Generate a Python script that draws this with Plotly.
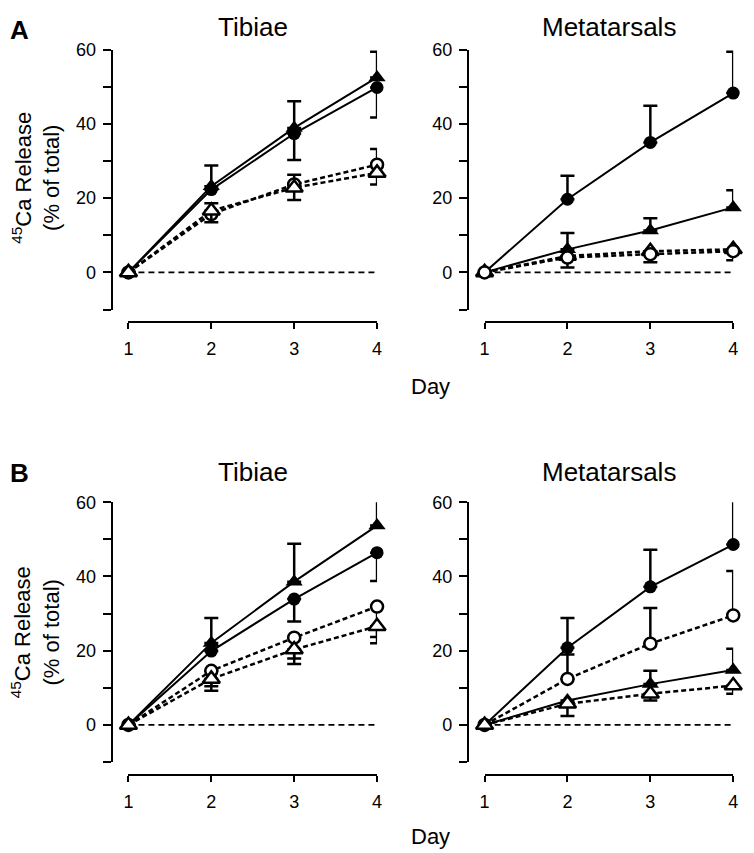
import plotly.graph_objects as go

# page body adds an 8px margin; lay out in screen pixels then shift
OFF = 8
W, H = 746, 845

days = [1, 2, 3, 4]
zero_x = [1, 4]
zero_y = [0, 0]

y_tickvals = [0, 20, 40, 60]
y_ticktext = ["0", "20", "40", "60"]
y_minor_tickvals = [-10, 10, 30, 50]
x_tickvals = [1, 2, 3, 4]
x_ticktext = ["1", "2", "3", "4"]

panel_titles = ["Tibiae", "Metatarsals", "Tibiae", "Metatarsals"]
panel_letters = ["A", "B"]

# ---- Panel A, Tibiae ----
a_tib_fc = [0, 22.3, 37.4, 49.8]
a_tib_fc_up = [0, 0, 0, 0]
a_tib_fc_dn = [0, 0, 7.1, 8.1]
a_tib_ft = [0, 23.2, 38.9, 52.5]
a_tib_ft_up = [0, 5.6, 7.2, 6.9]
a_tib_ft_dn = [0, 0, 0, 0]
a_tib_oc = [0, 15.7, 23.7, 29.0]
a_tib_oc_up = [0, 2.9, 2.6, 4.2]
a_tib_oc_dn = [0, 0, 0, 0]
a_tib_ot = [0, 16.6, 22.8, 26.8]
a_tib_ot_up = [0, 0, 0, 0]
a_tib_ot_dn = [0, 3.1, 3.3, 3.1]

# ---- Panel A, Metatarsals ----
a_met_fc = [0, 19.7, 35.0, 48.3]
a_met_fc_up = [0, 6.3, 9.9, 11.1]
a_met_fc_dn = [0, 0, 0, 0]
a_met_ft = [0, 6.2, 11.3, 17.5]
a_met_ft_up = [0, 4.4, 3.3, 4.6]
a_met_ft_dn = [0, 0, 0, 0]
a_met_oc = [0, 4.0, 4.9, 5.7]
a_met_oc_up = [0, 0, 0, 0]
a_met_oc_dn = [0, 2.7, 2.2, 2.4]
a_met_ot = [0, 4.4, 5.7, 6.2]
a_met_ot_up = [0, 0, 0, 0]
a_met_ot_dn = [0, 0, 0, 0]

# ---- Panel B, Tibiae ----
b_tib_fc = [0, 19.9, 33.9, 46.4]
b_tib_fc_up = [0, 0, 0, 0]
b_tib_fc_dn = [0, 0, 6.0, 7.6]
b_tib_ft = [0, 22.1, 38.6, 53.7]
b_tib_ft_up = [0, 6.7, 10.2, 8.4]
b_tib_ft_dn = [0, 0, 0, 0]
b_tib_oc = [0, 14.6, 23.5, 31.9]
b_tib_oc_up = [0, 0, 0, 0]
b_tib_oc_dn = [0, 4.2, 5.6, 8.2]
b_tib_ot = [0, 12.4, 20.3, 26.6]
b_tib_ot_up = [0, 0, 0, 0]
b_tib_ot_dn = [0, 3.2, 3.9, 4.6]

# ---- Panel B, Metatarsals ----
b_met_fc = [0, 20.8, 37.2, 48.6]
b_met_fc_up = [0, 8.0, 10.0, 13.7]
b_met_fc_dn = [0, 0, 0, 0]
b_met_ft = [0, 6.6, 11.0, 14.8]
b_met_ft_up = [0, 0, 3.6, 5.7]
b_met_ft_dn = [0, 0, 0, 0]
b_met_oc = [0, 12.4, 21.9, 29.5]
b_met_oc_up = [0, 6.6, 9.6, 12.0]
b_met_oc_dn = [0, 0, 0, 0]
b_met_ot = [0, 5.7, 8.4, 10.6]
b_met_ot_up = [0, 0, 0, 0]
b_met_ot_dn = [0, 3.3, 1.8, 2.2]

panels = [
    dict(fc=(a_tib_fc, a_tib_fc_up, a_tib_fc_dn), ft=(a_tib_ft, a_tib_ft_up, a_tib_ft_dn),
         oc=(a_tib_oc, a_tib_oc_up, a_tib_oc_dn), ot=(a_tib_ot, a_tib_ot_up, a_tib_ot_dn)),
    dict(fc=(a_met_fc, a_met_fc_up, a_met_fc_dn), ft=(a_met_ft, a_met_ft_up, a_met_ft_dn),
         oc=(a_met_oc, a_met_oc_up, a_met_oc_dn), ot=(a_met_ot, a_met_ot_up, a_met_ot_dn)),
    dict(fc=(b_tib_fc, b_tib_fc_up, b_tib_fc_dn), ft=(b_tib_ft, b_tib_ft_up, b_tib_ft_dn),
         oc=(b_tib_oc, b_tib_oc_up, b_tib_oc_dn), ot=(b_tib_ot, b_tib_ot_up, b_tib_ot_dn)),
    dict(fc=(b_met_fc, b_met_fc_up, b_met_fc_dn), ft=(b_met_ft, b_met_ft_up, b_met_ft_dn),
         oc=(b_met_oc, b_met_oc_up, b_met_oc_dn), ot=(b_met_ot, b_met_ot_up, b_met_ot_dn)),
]
draw_orders = [
    ["fc", "ft", "oc", "ot"],
    ["fc", "ft", "ot", "oc"],
    ["fc", "ft", "oc", "ot"],
    ["fc", "ft", "oc", "ot"],
]

FONT = "Liberation Sans, Arial, sans-serif"


def px(x):
    return (x - OFF) / W


def py(y):
    return 1 - (y - OFF) / H


# screen-pixel layout: (x day1, x day4, y-axis x, y top(60), y bottom(-10), x-axis line y)
geom = [
    (125, 377, 108, 40, 303, 316),
    (486, 738, 469, 40, 303, 316),
    (125, 377, 108, 498, 761, 774),
    (486, 738, 469, 498, 761, 774),
]

styles = {
    "fc": dict(symbol="circle", size=13, fill="black", dash="solid", lw=2),
    "ft": dict(symbol="triangle-up", size=15, fill="black", dash="solid", lw=2),
    "oc": dict(symbol="circle", size=12, fill="white", dash="5px,3px", lw=2.5),
    "ot": dict(symbol="triangle-up", size=15, fill="white", dash="5px,3px", lw=2.5),
}

fig = go.Figure()
layout = dict(
    width=W, height=H, margin=dict(l=0, r=0, t=0, b=0),
    paper_bgcolor="white", plot_bgcolor="rgba(0,0,0,0)", showlegend=False,
    font=dict(family=FONT, color="black"),
)

annotations = []
for i, (p, g) in enumerate(zip(panels, geom)):
    n = "" if i == 0 else str(i + 1)
    xa, ya = "x" + n, "y" + n
    x1, x4, yax, ytop, ybot, xline = g
    layout["xaxis" + n] = dict(
        domain=[px(x1), px(x4)], range=[1, 4], anchor="free", position=py(xline),
        showline=True, linecolor="black", linewidth=2, ticks="outside", ticklen=6,
        tickwidth=2, tickcolor="black", tickvals=x_tickvals, ticktext=x_ticktext,
        tickfont=dict(size=18, family=FONT), ticklabelstandoff=4,
        showgrid=False, zeroline=False, fixedrange=True,
    )
    layout["yaxis" + n] = dict(
        domain=[py(ybot), py(ytop)], range=[-10, 60], anchor="free",
        position=px(yax), showline=True, linecolor="black", linewidth=2,
        ticks="outside", ticklen=8, tickwidth=2, tickcolor="black",
        tickvals=y_tickvals, ticktext=y_ticktext, tickfont=dict(size=18, family=FONT),
        minor=dict(tickvals=y_minor_tickvals, ticks="outside", ticklen=8, tickwidth=2,
                   tickcolor="black", showgrid=False),
        ticklabelstandoff=3, showgrid=False, zeroline=False, fixedrange=True,
    )
    fig.add_trace(go.Scatter(x=zero_x, y=zero_y, mode="lines", xaxis=xa, yaxis=ya,
                             line=dict(color="black", width=1.8, dash="6px,4px"),
                             hoverinfo="skip", cliponaxis=False))
    for key in draw_orders[i]:
        vals, up, dn = p[key]
        s = styles[key]
        fig.add_trace(go.Scatter(
            x=days, y=vals, mode="lines+markers", xaxis=xa, yaxis=ya, cliponaxis=False,
            line=dict(color="black", width=s["lw"], dash=s["dash"]),
            marker=dict(symbol=s["symbol"], size=s["size"], color=s["fill"],
                        line=dict(color="black", width=2.5 if s["fill"] == "white" else 0)),
            error_y=dict(type="data", symmetric=False, array=up, arrayminus=dn,
                         color="black", thickness=2.5, width=7),
        ))
    annotations.append(dict(text=panel_titles[i], x=px((x1 + x4) / 2), y=py(17 if i < 2 else 467),
                            xref="paper", yref="paper", showarrow=False,
                            xanchor="center", yanchor="middle",
                            font=dict(size=26, family=FONT)))

for j, letter in enumerate(panel_letters):
    yc = 20 if j == 0 else 468
    annotations.append(dict(text="<b>%s</b>" % letter, x=px(15), y=py(yc), xref="paper", yref="paper",
                            showarrow=False, xanchor="center", yanchor="middle",
                            font=dict(size=26, family=FONT)))
    ytc = 170 if j == 0 else 630
    annotations.append(dict(text="<sup>45</sup>Ca Release<br>(% of total)", x=px(31), y=py(ytc),
                            xref="paper", yref="paper", showarrow=False, textangle=-90,
                            xanchor="center", yanchor="middle", align="center",
                            font=dict(size=22, family=FONT)))
    yd = 381 if j == 0 else 836
    annotations.append(dict(text="Day", x=px(431), y=py(yd), xref="paper", yref="paper",
                            showarrow=False, xanchor="center", yanchor="middle",
                            font=dict(size=22, family=FONT)))

layout["annotations"] = annotations
fig.update_layout(**layout)
fig.write_html("out.html")
